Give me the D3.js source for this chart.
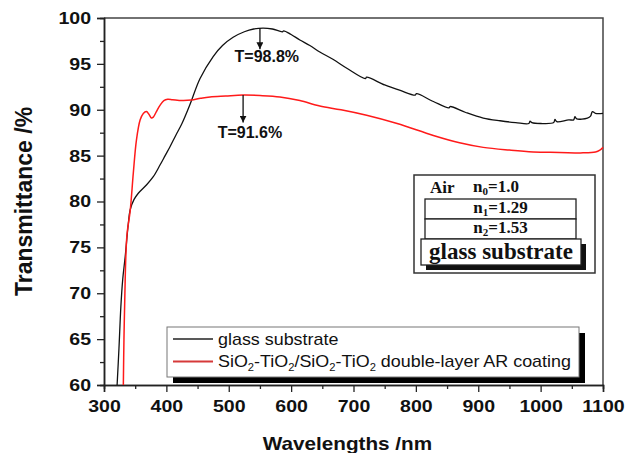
<!DOCTYPE html>
<html>
<head>
<meta charset="utf-8">
<script src="https://cdn.jsdelivr.net/npm/d3@7"></script>
<style>
  body { margin: 0; background: #fff; }
  svg { display: block; font-family: Arial, "Liberation Sans", sans-serif; }
</style>
</head>
<body>
<div class="chart"></div>
<script>
// values
const xTicks = [300, 400, 500, 600, 700, 800, 900, 1000, 1100];
const yTicks = [60, 65, 70, 75, 80, 85, 90, 95, 100];
const xMinor = [350, 450, 550, 650, 750, 850, 950, 1050];
const yMinor = [62.5, 67.5, 72.5, 77.5, 82.5, 87.5, 92.5, 97.5];

// [wavelength nm, transmittance %]
const glassSubstrate = [
  [321, 60], [324, 64], [327, 68.5], [330, 71.5], [334, 74], [339, 77.6], [342, 79.1],
  [348, 80.2], [355, 80.9], [368, 81.8], [379, 82.7], [390, 84.0], [398, 85.0], [406, 86.0],
  [415, 87.2], [425, 88.5], [438, 90.6], [454, 93.4], [475, 95.8], [490, 97.0], [507, 97.9],
  [525, 98.5], [540, 98.8], [555, 98.9], [570, 98.8], [586, 98.5], [588, 98.6], [600, 98.2],
  [614, 97.6], [630, 97.0], [646, 96.3], [667, 95.5], [690, 94.5], [719, 93.4], [721, 93.55],
  [750, 92.7], [775, 92.1], [799, 91.6], [801, 91.75], [828, 90.9], [853, 90.2], [855, 90.35],
  [880, 89.7], [908, 89.1], [935, 88.8], [960, 88.6], [981, 88.5], [983, 88.75], [986, 88.6],
  [1000, 88.5], [1021, 88.6], [1023, 88.95], [1026, 88.7], [1045, 88.9], [1053, 88.9],
  [1055, 89.25], [1058, 89.0], [1075, 89.1], [1080, 89.3], [1083, 89.8], [1088, 89.6], [1100, 89.6]
];
const arCoating = [
  [331, 60], [332, 65], [333.5, 70], [335, 74], [337, 76.5], [342, 79], [347, 83.1],
  [352, 86.7], [358, 88.9], [363, 89.6], [368, 89.8], [372, 89.5], [376, 89.1], [379, 89.2],
  [384, 89.8], [390, 90.5], [396, 91.0], [402, 91.15], [410, 91.1], [425, 91.0], [440, 91.05],
  [455, 91.25], [470, 91.4], [495, 91.5], [523, 91.6], [550, 91.55], [582, 91.4], [614, 91.0],
  [646, 90.4], [680, 90.0], [721, 89.4], [770, 88.5], [828, 87.2], [870, 86.4], [908, 85.9],
  [950, 85.6], [988, 85.4], [1030, 85.35], [1068, 85.3], [1088, 85.4], [1095, 85.6], [1100, 85.9]
];

const seriesNames = ['glass substrate', 'SiO_2-TiO_2/SiO_2-TiO_2 double-layer AR coating'];
const seriesColors = ['#111', '#ff1a1a'];

// peak call-outs: arrow at x from T "from" down to "to", label centred at (lx, ly)
const peaks = [
  {x: 550, from: 98.9, to: 96.6, lx: 561, ly: 95.15, text: 'T=98.8%'},
  {x: 523, from: 91.6, to: 88.6, lx: 534, ly: 86.9, text: 'T=91.6%'}
];

// film stack sketch
const stackTop = 'Air';
const stackLayers = ['n_0=1.0', 'n_1=1.29', 'n_2=1.53'];
const stackBase = 'glass substrate';

const W = 628, H = 453;
const margin = {top: 18, right: 25, bottom: 68, left: 104};
const width = W - margin.left - margin.right;
const height = H - margin.top - margin.bottom;

const svg = d3.select('.chart')
  .append('svg')
  .attr('width', W)
  .attr('height', H);

const g = svg.append('g')
  .attr('transform', `translate(${margin.left}, ${margin.top})`);

const x = d3.scaleLinear().domain([300, 1100]).range([0, width]);
const y = d3.scaleLinear().domain([60, 100]).range([height, 0]);

// subscripts written as _2
function richText(sel, str, subSize, shift) {
  const parts = str.split(/_(\d)/);
  let down = false;
  parts.forEach((p, i) => {
    if (!p) return;
    const t = sel.append('tspan').text(p);
    if (i % 2) { t.attr('dy', shift).style('font-size', subSize); down = true; }
    else if (down) { t.attr('dy', -shift); down = false; }
  });
}

// frame
g.append('path')
  .attr('d', `M0,0H${width}V${height}`)
  .attr('fill', 'none')
  .attr('stroke', '#444')
  .attr('stroke-width', 1.5);

// axes
const xAxis = g.append('g')
  .attr('transform', `translate(0, ${height})`)
  .call(d3.axisBottom(x).tickValues(xTicks).tickSize(7).tickPadding(8).tickFormat(d3.format('d')));
g.append('g')
  .attr('transform', `translate(0, ${height})`)
  .call(d3.axisBottom(x).tickValues(xMinor).tickSize(4).tickFormat(''));
const yAxis = g.append('g')
  .call(d3.axisLeft(y).tickValues(yTicks).tickSize(7).tickPadding(6));
g.append('g')
  .call(d3.axisLeft(y).tickValues(yMinor).tickSize(4).tickFormat(''));

g.selectAll('.domain').attr('stroke', '#222').attr('stroke-width', 1.5);
g.selectAll('.tick line').attr('stroke', '#222').attr('stroke-width', 1.3);

xAxis.selectAll('text')
  .style('font-size', '17px').style('font-weight', 'bold').attr('fill', '#111')
  .attr('transform', 'scale(1.15,1)');
yAxis.selectAll('text')
  .style('font-size', '17px').style('font-weight', 'bold').attr('fill', '#111')
  .attr('x', 0)
  .attr('transform', 'translate(-13,0) scale(1.15,1)');

// axis titles
svg.append('text')
  .attr('transform', `translate(${margin.left + width / 2 - 6}, 450) scale(1.15,1)`)
  .attr('text-anchor', 'middle')
  .style('font-size', '18px').style('font-weight', 'bold').attr('fill', '#111')
  .text('Wavelengths /nm');
svg.append('text')
  .attr('transform', `translate(32, ${margin.top + height / 2}) rotate(-90)`)
  .attr('text-anchor', 'middle')
  .style('font-size', '23px').style('font-weight', 'bold').attr('fill', '#111')
  .text('Transmittance /%');

// curves
const line = d3.line()
  .x(d => x(d[0]))
  .y(d => y(d[1]))
  .curve(d3.curveCatmullRom.alpha(0.5));

const plot = g.append('g');
[glassSubstrate, arCoating].forEach((s, i) => {
  plot.append('path')
    .datum(s)
    .attr('d', line)
    .attr('fill', 'none')
    .attr('stroke', seriesColors[i])
    .attr('stroke-width', i ? 1.5 : 1.3);
});

// peak arrows
svg.append('defs').append('marker')
  .attr('id', 'arrow')
  .attr('viewBox', '0 0 10 10')
  .attr('refX', 10).attr('refY', 5)
  .attr('markerWidth', 7).attr('markerHeight', 7)
  .attr('markerUnits', 'userSpaceOnUse')
  .attr('orient', 'auto')
  .append('path')
  .attr('d', 'M0,0L10,5L0,10Z')
  .attr('fill', '#111');

peaks.forEach(p => {
  g.append('line')
    .attr('x1', x(p.x)).attr('x2', x(p.x))
    .attr('y1', y(p.from)).attr('y2', y(p.to))
    .attr('stroke', '#111').attr('stroke-width', 1.3)
    .attr('marker-end', 'url(#arrow)');
  g.append('text')
    .attr('x', x(p.lx)).attr('y', y(p.ly))
    .attr('text-anchor', 'middle')
    .style('font-size', '16px').style('font-weight', 'bold').attr('fill', '#111')
    .text(p.text);
});

// film stack inset (plot-relative pixels)
const inset = g.append('g')
  .attr('transform', 'translate(310, 157)')
  .style('font-family', '"Liberation Serif", "Times New Roman", serif')
  .style('font-weight', 'bold')
  .attr('fill', '#111');
inset.append('rect')
  .attr('width', 181).attr('height', 98)
  .attr('fill', '#fff').attr('stroke', '#333').attr('stroke-width', 1.5);
inset.append('text').attr('x', 16).attr('y', 18).style('font-size', '17px').text(stackTop);
richText(inset.append('text').attr('x', 59).attr('y', 17).style('font-size', '17px'),
  stackLayers[0], '11px', 3);
stackLayers.slice(1).forEach((s, i) => {
  const top = 24 + i * 20;
  inset.append('rect')
    .attr('x', 11).attr('y', top).attr('width', 151).attr('height', 20)
    .attr('fill', '#fff').attr('stroke', '#222').attr('stroke-width', 1.3);
  richText(inset.append('text').attr('x', 86.5).attr('y', top + 14)
      .attr('text-anchor', 'middle').style('font-size', '17px'),
    s, '11px', 3);
});
inset.append('rect')
  .attr('x', 12).attr('y', 69).attr('width', 160).attr('height', 26)
  .attr('fill', '#111');
inset.append('rect')
  .attr('x', 7).attr('y', 64).attr('width', 160).attr('height', 26)
  .attr('fill', '#fff').attr('stroke', '#222').attr('stroke-width', 1.3);
inset.append('text')
  .attr('x', 87).attr('y', 84).attr('text-anchor', 'middle')
  .style('font-size', '23px')
  .text(stackBase);

// legend
const legend = g.append('g').attr('transform', 'translate(63, 309)');
legend.append('rect')
  .attr('x', 6).attr('y', 6).attr('width', 412).attr('height', 50)
  .attr('fill', '#000');
legend.append('rect')
  .attr('width', 412).attr('height', 50)
  .attr('fill', '#fff').attr('stroke', '#777').attr('stroke-width', 1);
seriesNames.forEach((name, i) => {
  const cy = 12 + i * 22.5;
  legend.append('line')
    .attr('x1', 6).attr('x2', 46).attr('y1', cy).attr('y2', cy)
    .attr('stroke', i ? '#d63a3a' : '#222').attr('stroke-width', i ? 2 : 1.5);
  const t = legend.append('g')
    .attr('transform', `translate(51, ${cy + 5.5}) scale(1.12,1)`)
    .append('text')
    .style('font-size', '16px').attr('fill', '#111');
  richText(t, name, '10px', 4);
});
</script>
</body>
</html>
